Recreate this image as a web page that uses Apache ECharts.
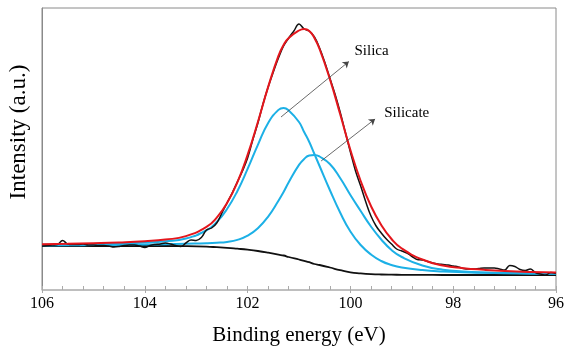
<!DOCTYPE html>
<html>
<head>
<meta charset="utf-8">
<script src="https://cdn.jsdelivr.net/npm/echarts@6/dist/echarts.min.js"></script>
<style>
  html, body { margin: 0; padding: 0; background: #fff; }
  #chart { width: 576px; height: 348px; }
</style>
</head>
<body>
<div id="chart"></div>
<script>
// binding energies (eV) for the fitted curves
var fitEnergy = [106, 105.5, 105, 104.5, 104, 103.6, 103.2, 102.8, 102.6, 102.4, 102.2, 102.0, 101.8, 101.6, 101.4, 101.3, 101.2, 101.0, 100.9, 100.8, 100.7, 100.6, 100.4, 100.2, 100.0, 99.8, 99.6, 99.4, 99.2, 99.0, 98.6, 98.2, 97.8, 97.4, 97.0, 96.5, 96.0];
var background = [44, 44, 44, 44, 44, 44, 43.8, 43.3, 42.8, 42.2, 41.3, 40.3, 39, 37.3, 35.3, 34.5, 33, 30.5, 29.2, 27.8, 26, 25, 22.5, 19.8, 17.6, 16.6, 15.9, 15.5, 15.3, 15.2, 15.1, 15, 15, 15, 15, 15, 15];
var silica = [45.2, 45.5, 45.9, 46.5, 47.4, 48.7, 51.5, 59.7, 68, 81, 98.8, 121.1, 145.2, 167, 180.1, 182, 179.5, 168, 158, 148, 136, 124, 100, 77.5, 58.5, 45, 35.5, 29, 25, 22.5, 19.9, 18.5, 17.7, 17.2, 16.8, 16.5, 16.2];
var silicate = [44.5, 44.7, 44.9, 45.1, 45.4, 45.7, 46.2, 46.7, 47.2, 48.1, 50.1, 54.3, 61.8, 73.4, 89.3, 98, 107.8, 125.1, 131, 134.5, 135, 133.5, 126, 112, 95, 79, 63.5, 50.5, 40, 33, 24.5, 20.3, 18.6, 17.6, 17, 16.5, 16.2];
var envelope = [45.7, 46.2, 46.8, 47.6, 48.8, 50.4, 53.9, 63.1, 72.4, 86.9, 107.6, 135.1, 168, 203.1, 234.1, 245, 252, 259.5, 261, 259, 252, 241, 211, 176, 140, 109, 84, 65, 51, 41.5, 30.5, 24.5, 21.8, 20.2, 19, 18, 17.4];

// measured spectrum, 0.1 eV steps from 106 down to 96
var rawEnergy = [];
for (var i = 0; i <= 100; i++) rawEnergy.push(+(106 - i * 0.1).toFixed(1));
var rawCounts = [
  44, 44.5, 45, 45.5, 49.5, 46, 45.5, 45.5, 46, 45,
  45, 44.5, 44.5, 44, 43, 43.5, 44.5, 45, 45, 44,
  42.5, 44.5, 45.5, 46, 47, 46, 44.5, 43.5, 47, 50,
  49.5, 52.5, 60, 62, 67, 77, 87, 97, 108, 119,
  132, 150, 167, 186, 203, 218, 232, 244, 252, 259,
  266, 261, 259, 253, 242, 228, 212, 196, 178, 158,
  138, 119, 104, 88, 74, 64, 57, 51, 46, 41,
  39, 37, 33.5, 30.5, 30, 28.5, 27, 26, 25.5, 25,
  24, 23, 21.5, 21, 21, 21.5, 22, 22, 22, 21,
  20, 24.5, 23.5, 20.5, 19.5, 21, 17.5, 16, 15, 17.5,
  16.5
];

// annotation arrows: [start eV, start I, end eV, end I]
var silicaArrow = [101.35, 173, 100.03, 228.5];
var silicateArrow = [100.57, 129, 99.52, 171];

function pairs(xs, ys) {
  return xs.map(function (x, k) { return [x, ys[k]]; });
}

var serif = 'Liberation Serif';
var chart = echarts.init(document.getElementById('chart'));

var option = {
  animation: false,
  grid: {
    left: 42, right: 20, top: 8, bottom: 58,
    outerBoundsMode: 'none',
    show: true, borderColor: '#8a8a8a', borderWidth: 1
  },
  xAxis: [{
    type: 'value',
    inverse: true,
    min: 96, max: 106, interval: 2,
    axisLine: { show: true, lineStyle: { color: '#bdbdbd', width: 1.5 } },
    axisTick: { show: true, inside: true, length: 4, lineStyle: { color: '#aaa' } },
    minorTick: { show: true, splitNumber: 5, length: 4, lineStyle: { color: '#aaa' } },
    splitLine: { show: false },
    axisLabel: { color: '#000', fontFamily: serif, fontSize: 16, margin: 6 },
    name: 'Binding energy (eV)',
    nameLocation: 'middle',
    nameGap: 35,
    nameTextStyle: { color: '#000', fontFamily: serif, fontSize: 21 }
  }, {
    type: 'value',
    inverse: true,
    min: 96, max: 106, interval: 2,
    position: 'bottom',
    axisLine: { show: false },
    axisTick: { show: true, inside: false, length: 3, lineStyle: { color: '#aaa' } },
    axisLabel: { show: false },
    splitLine: { show: false }
  }],
  yAxis: {
    type: 'value',
    min: 0, max: 282,
    axisLine: { show: true, lineStyle: { color: '#8a8a8a' } },
    axisTick: { show: false },
    axisLabel: { show: false },
    splitLine: { show: false },
    name: 'Intensity (a.u.)',
    nameLocation: 'middle',
    nameGap: 12,
    nameTextStyle: { color: '#000', fontFamily: serif, fontSize: 23, padding: [0, 0, 0, 34] }
  },
  series: [
    {
      name: 'Background', type: 'line', smooth: true, symbol: 'none',
      data: pairs(fitEnergy, background),
      lineStyle: { color: '#111', width: 1.8 }
    },
    {
      name: 'Silica', type: 'line', smooth: true, symbol: 'none',
      data: pairs(fitEnergy, silica),
      lineStyle: { color: '#1cb0e6', width: 2 },
      markLine: {
        silent: true, symbol: ['none', 'arrow'], symbolSize: 6,
        lineStyle: { color: '#444', width: 0.8, type: 'solid' },
        label: { show: false },
        data: [[{ coord: [silicaArrow[0], silicaArrow[1]] }, { coord: [silicaArrow[2], silicaArrow[3]] }]]
      },
      markPoint: {
        silent: true, symbol: 'circle', symbolSize: 0,
        label: { show: true, position: 'right', distance: 2, formatter: 'Silica', color: '#000', fontFamily: serif, fontSize: 15 },
        data: [{ coord: [99.96, 239] }]
      }
    },
    {
      name: 'Silicate', type: 'line', smooth: true, symbol: 'none',
      data: pairs(fitEnergy, silicate),
      lineStyle: { color: '#1cb0e6', width: 2 },
      markLine: {
        silent: true, symbol: ['none', 'arrow'], symbolSize: 6,
        lineStyle: { color: '#444', width: 0.8, type: 'solid' },
        label: { show: false },
        data: [[{ coord: [silicateArrow[0], silicateArrow[1]] }, { coord: [silicateArrow[2], silicateArrow[3]] }]]
      },
      markPoint: {
        silent: true, symbol: 'circle', symbolSize: 0,
        label: { show: true, position: 'right', distance: 2, formatter: 'Silicate', color: '#000', fontFamily: serif, fontSize: 15 },
        data: [{ coord: [99.38, 177] }]
      }
    },
    {
      name: 'Raw', type: 'line', smooth: 0.4, symbol: 'none',
      data: pairs(rawEnergy, rawCounts),
      lineStyle: { color: '#111', width: 1.5 }
    },
    {
      name: 'Fit', type: 'line', smooth: true, symbol: 'none',
      data: pairs(fitEnergy, envelope),
      lineStyle: { color: '#e4161c', width: 2 }
    }
  ]
};

chart.setOption(option);
</script>
</body>
</html>
